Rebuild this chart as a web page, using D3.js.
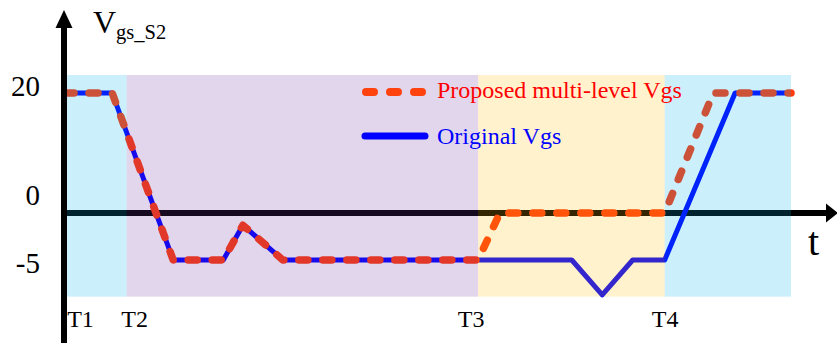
<!DOCTYPE html>
<html>
<head>
<meta charset="utf-8">
<script src="https://cdn.jsdelivr.net/npm/d3@7"></script>
<style>
  html, body { margin: 0; padding: 0; background: #fff; }
  svg { display: block; font-family: "Liberation Serif", "Times New Roman", serif; }
</style>
</head>
<body>
<svg id="chart" width="837" height="343"></svg>
<script>
// Switching instants (time units) and the shaded phase bands between them
const phaseNames = ["T1", "T2", "T3", "T4"];
const phaseTimes = [0, 8.5, 56.9, 82.6];
const phaseEnd = 100;
const phaseFills = ["#00B0F0", "#7030A0", "#FFC000", "#00B0F0"];
const bandVolts = [-8.9, 23];

// Original gate-source voltage of S2
const originalT = [0, 6.5, 14.9, 21.8, 24.5, 30.0, 56.9, 69.8, 74.0, 78.2, 82.6, 92.3, 100];
const originalV = [20, 20, -5, -5, -1.3, -5, -5, -5, -8.7, -5, -5, 20, 20];

// Proposed multi-level gate-source voltage of S2
const proposedT = [0, 6.5, 14.9, 21.8, 24.5, 30.0, 56.9, 59.9, 82.6, 89.3, 100];
const proposedV = [20, 20, -5, -5, -1.3, -5, -5, 0, 0, 20, 20];

// Voltage levels marked on the vertical axis
const yTickValues = [20, 0, -5];
const yTickLabels = ["20", "0", "-5"];

const seriesNames = ["Proposed multi-level Vgs", "Original Vgs"];
const seriesColors = ["#ff3a0c", "#0000ff"];
const legendTextColors = ["#ff0000", "#0000ff"];

const W = 837, H = 343;
const svg = d3.select("#chart");

// Time runs left to right; the voltage axis is stretched piecewise (schematic)
const x = d3.scaleLinear().domain([0, phaseEnd]).range([65, 791]);
const y = d3.scaleLinear().domain([-5, 0, 20]).range([260, 213, 93]);

const axisX = 64;

// Horizontal time axis at 0 V, with arrow
svg.append("line")
  .attr("x1", axisX).attr("x2", W - 10)
  .attr("y1", y(0)).attr("y2", y(0))
  .attr("stroke", "#000").attr("stroke-width", 6);
svg.append("path")
  .attr("d", `M${W + 1},${y(0)} L${W - 11},${y(0) - 9.5} L${W - 11},${y(0) + 9.5} Z`)
  .attr("fill", "#000");

const line = d3.line()
  .x(d => x(d[0]))
  .y(d => y(d[1]));

const originalPts = originalT.map((t, i) => [t, originalV[i]]);
const proposedPts = proposedT.map((t, i) => [t, proposedV[i]]);

svg.append("path")
  .attr("d", line(originalPts))
  .attr("fill", "none")
  .attr("stroke", seriesColors[1])
  .attr("stroke-width", 5)
  .attr("stroke-linejoin", "round")
  .attr("stroke-linecap", "round");

svg.append("path")
  .attr("d", line(proposedPts))
  .attr("fill", "none")
  .attr("stroke", seriesColors[0])
  .attr("stroke-width", 7.5)
  .attr("stroke-dasharray", "9 15")
  .attr("stroke-linejoin", "round")
  .attr("stroke-linecap", "round");

// Translucent phase bands laid over the waveforms
const bandEdges = phaseTimes.concat([phaseEnd]);
svg.append("g").selectAll("rect")
  .data(phaseTimes)
  .join("rect")
  .attr("x", (d, i) => x(bandEdges[i]))
  .attr("width", (d, i) => x(bandEdges[i + 1]) - x(bandEdges[i]))
  .attr("y", y(bandVolts[1]))
  .attr("height", y(bandVolts[0]) - y(bandVolts[1]))
  .attr("fill", (d, i) => phaseFills[i])
  .attr("fill-opacity", 0.2);

// Vertical voltage axis with arrow
svg.append("line")
  .attr("x1", axisX).attr("x2", axisX)
  .attr("y1", 26).attr("y2", H)
  .attr("stroke", "#000").attr("stroke-width", 6);
svg.append("path")
  .attr("d", `M${axisX},10 L${axisX - 8.5},28 L${axisX + 8.5},28 Z`)
  .attr("fill", "#000");

// Axis title V_gs_S2
const title = svg.append("text")
  .attr("x", 93).attr("y", 33)
  .attr("font-size", 32)
  .attr("fill", "#000");
title.append("tspan").text("V");
title.append("tspan").attr("font-size", 20.5).attr("dy", 6).text("gs_S2");

// Time axis label
svg.append("text")
  .attr("x", 808).attr("y", 255)
  .attr("font-size", 40)
  .attr("fill", "#000")
  .text("t");

// Voltage level labels
const tickBaseline = { "20": 3, "0": -8, "-5": 13 };
svg.append("g").selectAll("text")
  .data(yTickValues)
  .join("text")
  .attr("x", 40)
  .attr("y", (d, i) => y(d) + tickBaseline[yTickLabels[i]])
  .attr("text-anchor", "end")
  .attr("font-size", 29)
  .attr("fill", "#000")
  .text((d, i) => yTickLabels[i]);

// Switching instant labels under the bands
const phaseLabelDx = [15.5, 8, -7, 0.5];
svg.append("g").selectAll("text")
  .data(phaseTimes)
  .join("text")
  .attr("x", (d, i) => x(d) + phaseLabelDx[i])
  .attr("y", 327)
  .attr("text-anchor", "middle")
  .attr("font-size", 24)
  .attr("fill", "#000")
  .text((d, i) => phaseNames[i]);

// Legend
const legend = svg.append("g");
legend.append("line")
  .attr("x1", 366).attr("x2", 422).attr("y1", 92).attr("y2", 92)
  .attr("stroke", "#ff420e").attr("stroke-width", 8)
  .attr("stroke-dasharray", "8 16").attr("stroke-linecap", "round");
legend.append("line")
  .attr("x1", 365).attr("x2", 425).attr("y1", 136).attr("y2", 136)
  .attr("stroke", seriesColors[1]).attr("stroke-width", 7)
  .attr("stroke-linecap", "round");
legend.selectAll("text")
  .data(seriesNames)
  .join("text")
  .attr("x", 437)
  .attr("y", (d, i) => i === 0 ? 98 : 143.5)
  .attr("font-size", 24)
  .attr("fill", (d, i) => legendTextColors[i])
  .text(d => d);
</script>
</body>
</html>
